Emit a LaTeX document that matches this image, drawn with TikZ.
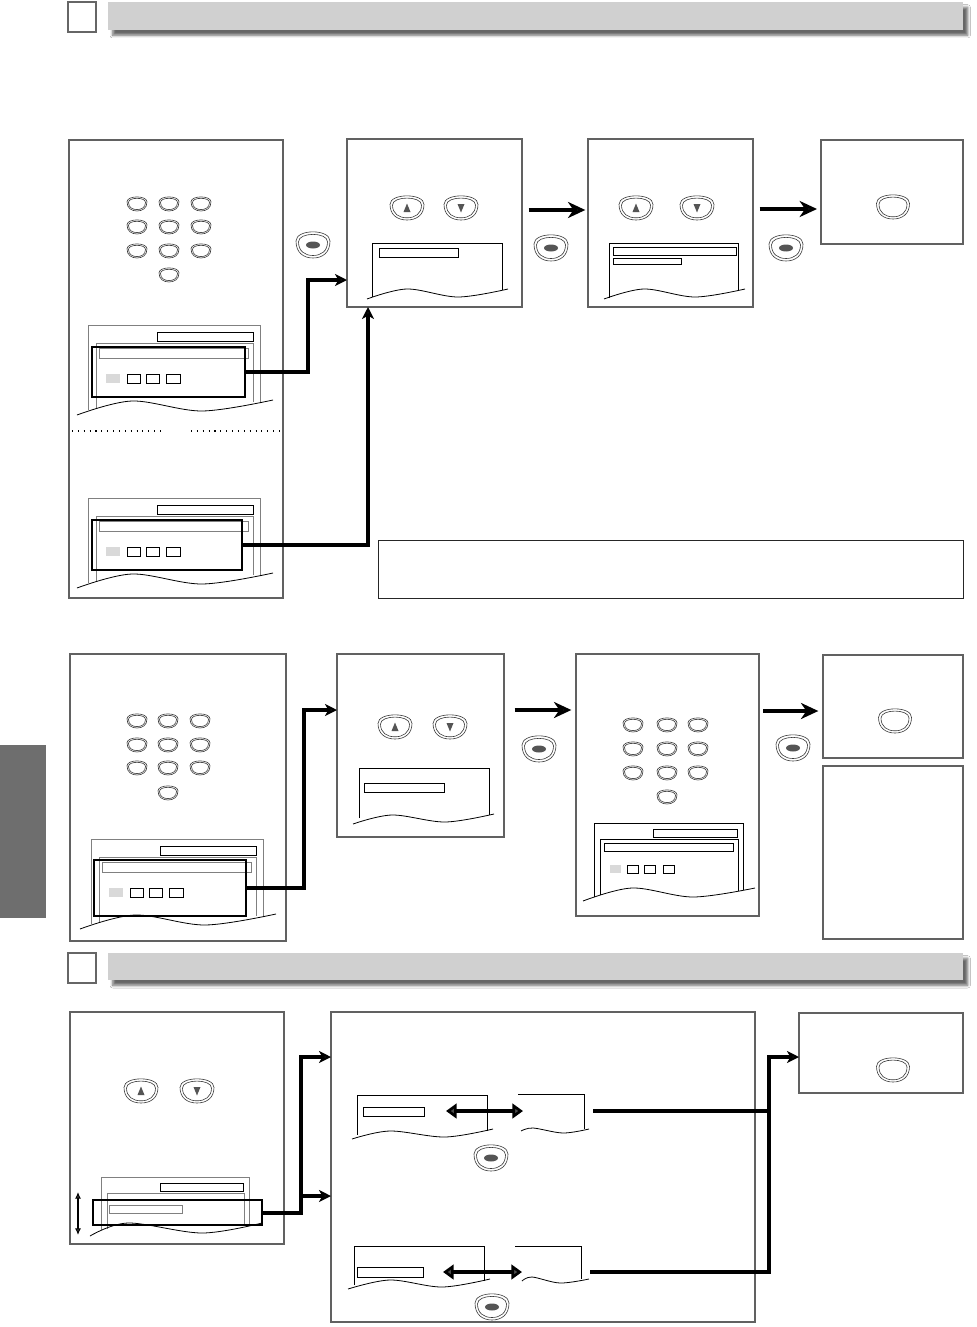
\documentclass[tikz,border=0pt]{standalone}
\usetikzlibrary{arrows.meta,fit,shadows.blur}
\definecolor{barc}{HTML}{D0D0D0}
\definecolor{tabc}{HTML}{6E6E6E}
\definecolor{btnc}{HTML}{3A3A3A}
\definecolor{dotc}{HTML}{555555}
\newcommand\eggp[2]{(-#1,-0.3*#2) .. controls (-#1,-1.25*#2) and (#1,-1.25*#2) .. (#1,-0.3*#2) .. controls (#1,0.6*#2) and (0.55*#1,#2) .. (0,#2) .. controls (-0.55*#1,#2) and (-#1,0.6*#2) .. cycle}
\newcommand\keypad[7]{\foreach \kx in {#1,#2,#3}{\foreach \ky in {#4,#5,#6}{\pic at (\kx,\ky) {numkey};}}\pic at (#2,#7) {numkey};}
\newcommand\wave[4]{\draw[wavel] plot[smooth,tension=0.55] coordinates {#1 #2 #3 #4};}
\tikzset{
  eggline/.style={draw=btnc, line width=0.45pt},
  numkey/.pic={\draw[eggline] \eggp{10}{7}; \draw[eggline] \eggp{8.5}{5.6};},
  bigkey/.pic={\draw[eggline] \eggp{16.5}{12}; \draw[eggline] \eggp{14}{9.8};},
  upkey/.pic={\draw[eggline] \eggp{17}{12}; \draw[eggline] \eggp{14.5}{9.8}; \fill[dotc] (-3.5,4)--(3.5,4)--(0,-4.5)--cycle;},
  dnkey/.pic={\draw[eggline] \eggp{17}{12}; \draw[eggline] \eggp{14.5}{9.8}; \fill[dotc] (-3.5,-4)--(3.5,-4)--(0,4.5)--cycle;},
  entkey/.pic={\draw[eggline] \eggp{17}{13}; \draw[eggline] \eggp{14.5}{10.5}; \fill[dotc] (0,0) ellipse [x radius=7, y radius=3.5];},
  panel/.style={draw=black!62, line width=0.85pt, inner sep=0pt, outer sep=0pt},
  notebox/.style={draw=black!85, line width=0.7pt, inner sep=0pt, outer sep=0pt},
  grayln/.style={draw=black!50, line width=0.75pt},
  thinln/.style={draw=black, line width=0.6pt},
  wavel/.style={draw=black, line width=0.6pt},
  selbox/.style={draw=black, line width=1.6pt, inner sep=0pt, outer sep=0pt},
  hsq/.style={draw=black!60, line width=1pt, fill=white, inner sep=0pt, outer sep=0pt},
  conn/.style={line width=3pt, -{Stealth[length=9pt,width=9pt,inset=2.5pt]}},
  plainconn/.style={line width=3pt},
  bigarrow/.style={line width=3.2pt, -{Stealth[length=13pt,width=12pt,inset=4pt]}},
  dblarrow/.style={line width=3.5pt, {Triangle[length=8pt,width=11pt]}-{Triangle[length=8pt,width=11pt]}},
}
\begin{document}
\begin{tikzpicture}[x=0.75pt,y=-0.75pt]
\useasboundingbox (0,0) rectangle (977,1327);
\fill[white] (0,0) rectangle (977,1327);

% headers
\path[fill=barc, blur shadow={shadow xshift=3.5pt, shadow yshift=-4pt, shadow blur radius=2pt, shadow opacity=60}] (108,2) rectangle (963,30);
\node[hsq, fit={(68,2)(96,32)}] (h1) {};
\path[fill=barc, blur shadow={shadow xshift=3.5pt, shadow yshift=-4pt, shadow blur radius=2pt, shadow opacity=60}] (108,953) rectangle (963,980);
\node[hsq, fit={(68,953)(96,983)}] (h2) {};

% side tab
\fill[tabc] (0,745) rectangle (46,918);

% ===== Top section =====
\node[panel, fit={(69,140)(283,598)}] (pA) {};
\keypad{137}{169}{201}{204}{227}{251}{275}
\foreach \dy in {0,173}{
\begin{scope}[shift={(0,\dy)}]
\draw[grayln] (88,410)--(88,325)--(260,325)--(260,402);
\draw[thinln] (157,332) rectangle (253,341);
\draw[grayln] (96,408)--(96,343)--(253,343)--(253,402);
\draw[grayln] (99,348) rectangle (248,358);
\fill[black!15] (106,374) rectangle (120,383);
\draw[thinln] (127,374) rectangle (140,383) (146,374) rectangle (159,383) (166,374) rectangle (180,383);
\wave{(77,415)}{(132,401)}{(202,411)}{(273,400)}
\end{scope}}
\node[selbox, fit={(92,347)(245,397)}] (s1) {};
\node[selbox, fit={(92,520)(242,570)}] (s2) {};
\draw[line width=0.8pt, dash pattern=on 0.8pt off 3.6pt] (72,431)--(162,431) (191,431)--(282,431);

\node[panel, fit={(347,139)(522,307)}] (pB) {};
\pic at (407,208) {upkey};
\pic at (461,208) {dnkey};
\draw[thinln] (372,297)--(372,243)--(502,243)--(502,290);
\draw[thinln] (379,248) rectangle (458,257);
\wave{(367,299)}{(407,289)}{(458,297)}{(508,289)}

\node[panel, fit={(588,139)(753,307)}] (pC) {};
\pic at (636,208) {upkey};
\pic at (697,208) {dnkey};
\draw[thinln] (609,298)--(609,243)--(738,243)--(738,290);
\draw[thinln] (613,247) rectangle (736,255);
\draw[thinln] (613,258) rectangle (681,264);
\wave{(604,299)}{(644,289)}{(695,297)}{(745,289)}

\node[panel, fit={(821,140)(963,244)}] (pD) {};
\pic at (893,207) {bigkey};

\node[notebox, fit={(378,540)(963,598)}] (note) {};

\pic at (313,245) {entkey};
\pic at (551,248) {entkey};
\pic at (786,248) {entkey};

\coordinate (k1) at (308,280);
\draw[conn] (s1.east) -| (k1) -- (k1 -| pB.west);
\coordinate (k2) at (368,545);
\draw[conn] (s2.east) -- (k2) -- (k2 |- pB.south);

\coordinate (yBC) at (0,210);
\draw[bigarrow, shorten <=5pt, shorten >=2pt] (pB.east |- yBC) -- (pC.west |- yBC);
\coordinate (yCD) at (0,209);
\draw[bigarrow, shorten <=5pt, shorten >=3pt] (pC.east |- yCD) -- (pD.west |- yCD);

% ===== Middle section =====
\node[panel, fit={(70,654)(286,941)}] (pE) {};
\keypad{137}{168}{200}{721}{745}{768}{793}
\begin{scope}[shift={(3,514)}]
\draw[grayln] (88,410)--(88,325)--(260,325)--(260,402);
\draw[thinln] (157,332) rectangle (253,341);
\draw[grayln] (96,408)--(96,343)--(253,343)--(253,402);
\draw[grayln] (99,348) rectangle (248,358);
\fill[black!15] (106,374) rectangle (120,383);
\draw[thinln] (127,374) rectangle (140,383) (146,374) rectangle (159,383) (166,374) rectangle (180,383);
\wave{(77,415)}{(132,401)}{(202,411)}{(273,400)}
\end{scope}
\node[selbox, fit={(94,860)(246,916)}] (sE) {};

\node[panel, fit={(337,654)(504,837)}] (pF) {};
\pic at (395,727) {upkey};
\pic at (450,727) {dnkey};
\draw[thinln] (359,818)--(359,768)--(489,768)--(489,815);
\draw[thinln] (364,783) rectangle (444,792);
\wave{(353,824)}{(392,815)}{(445,822)}{(494,814)}

\node[panel, fit={(576,654)(759,916)}] (pG) {};
\keypad{633}{667}{698}{725}{749}{773}{797}
\draw[thinln] (594,897)--(594,823)--(743,823)--(743,890);
\draw[thinln] (653,829) rectangle (737,837);
\draw[thinln] (600,895)--(600,839)--(738,839)--(738,891);
\draw[thinln] (604,843) rectangle (733,851);
\fill[black!15] (610,865) rectangle (621,873);
\draw[thinln] (627,865) rectangle (638,873) (644,865) rectangle (655,873) (663,865) rectangle (674,873);
\wave{(583,901)}{(632,888)}{(693,897)}{(755,888)}

\node[panel, fit={(823,655)(963,758)}] (pH) {};
\pic at (895,721) {bigkey};
\node[panel, fit={(823,766)(963,939)}] (pI) {};

\pic at (539,749) {entkey};
\pic at (793,748) {entkey};

\coordinate (k3) at (304,710);
\draw[conn] (sE.east) -| (k3) -- (k3 -| pF.west);
\coordinate (yFG) at (0,710);
\draw[bigarrow, shorten <=8pt, shorten >=3.5pt] (pF.east |- yFG) -- (pG.west |- yFG);
\coordinate (yGH) at (0,711);
\draw[bigarrow, shorten <=3pt, shorten >=3.5pt] (pG.east |- yGH) -- (pH.west |- yGH);

% ===== Bottom section =====
\node[panel, fit={(70,1012)(284,1244)}] (pJ) {};
\pic at (141,1091) {upkey};
\pic at (197,1091) {dnkey};
\draw[grayln] (101,1230)--(101,1177)--(249,1177)--(249,1224);
\draw[thinln] (160,1183) rectangle (243,1191);
\draw[grayln] (107,1229)--(107,1193)--(244,1193)--(244,1224);
\draw[grayln] (109,1205) rectangle (182,1213);
\wave{(90,1236)}{(128,1223)}{(202,1233)}{(262,1223)}
\node[selbox, fit={(93,1200)(262,1225)}] (sJ) {};
\coordinate (va) at (78,1192);
\coordinate (vb) at (78,1235);
\draw[line width=0.8pt, {Latex[length=5pt,width=4.5pt]}-{Latex[length=5pt,width=4.5pt]}] (va) -- (vb);

\node[panel, fit={(331,1012)(755,1322)}] (pK) {};
% pair 1
\draw[thinln] (357,1135)--(357,1095)--(487,1095)--(487,1131);
\draw[thinln] (363,1107) rectangle (424,1116);
\wave{(352,1139)}{(390,1131)}{(445,1137)}{(493,1129)}
\draw[thinln] (518,1094)--(584,1094)--(584,1129);
\wave{(521,1131)}{(533,1128)}{(563,1133)}{(589,1129)}
\coordinate (d1a) at (446,1111);
\coordinate (d1b) at (523,1111);
\draw[dblarrow] (d1a) -- (d1b);
\pic at (491,1158) {entkey};
% pair 2
\draw[thinln] (354,1285)--(354,1246)--(484,1246)--(484,1281);
\draw[thinln] (357,1267) rectangle (423,1277);
\wave{(348,1289)}{(390,1280)}{(442,1287)}{(490,1279)}
\draw[thinln] (515,1246)--(581,1246)--(581,1279);
\wave{(522,1281)}{(532,1277)}{(560,1283)}{(589,1279)}
\coordinate (d2a) at (443,1272);
\coordinate (d2b) at (522,1272);
\draw[dblarrow] (d2a) -- (d2b);
\pic at (492,1307) {entkey};

\node[panel, fit={(799,1013)(963,1093)}] (pL) {};
\pic at (893,1070) {bigkey};

\coordinate (kj1) at (301,1057);
\coordinate (kj2) at (301,1196);
\draw[conn] (sJ.east) -| (kj1) -- (kj1 -| pK.west);
\draw[conn] (kj2) -- (kj2 -| pK.west);

\coordinate (r1) at (593,1111);
\coordinate (r2) at (590,1272);
\coordinate (kv) at (769,1057);
\draw[plainconn] (r1) -- (r1 -| kv);
\draw[conn] (r2) -| (kv) -- (kv -| pL.west);
\end{tikzpicture}
\end{document}
